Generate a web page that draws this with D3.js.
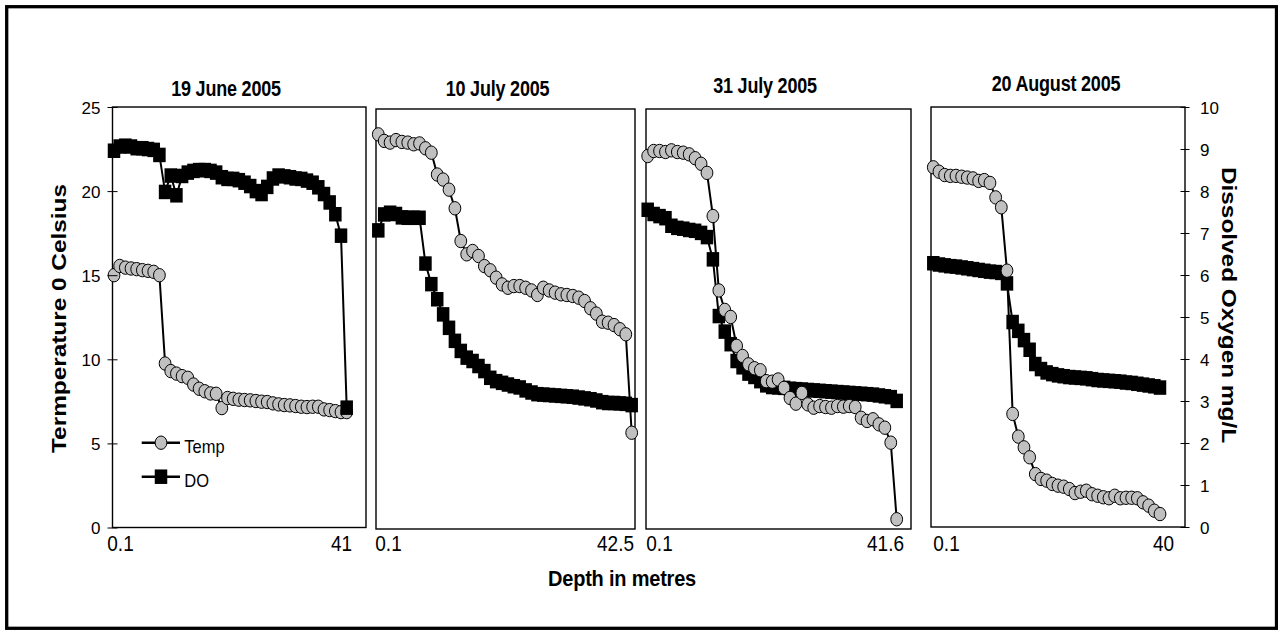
<!DOCTYPE html>
<html><head><meta charset="utf-8">
<script src="https://cdn.jsdelivr.net/npm/d3@7"></script>
<style>
body{margin:0;background:#fff}
svg{display:block}
text{font-family:"Liberation Sans",Arial,Helvetica,sans-serif;fill:#000}
</style>
</head><body>
<svg id="chart" width="1278" height="630"></svg>
<script>
// ---------- data ----------
const titles = ["19 June 2005", "10 July 2005", "31 July 2005", "20 August 2005"];
const seriesNames = ["Temp", "DO"];
const tempTicks = [0, 5, 10, 15, 20, 25];
const doTicks = [0, 1, 2, 3, 4, 5, 6, 7, 8, 9, 10];
const xAxisTitle = "Depth in metres";
const yLeftTitle = "Termperature 0 Celsius";
const yRightTitle = "Dissolved Oxygen mg/L";

const depth1 = ["0.1","1","2","3","4","5","6","7","8","9","10","11","12","13","14","15","16","17","18","19","20","21","22","23","24","25","26","27","28","29","30","31","32","33","34","35","36","37","38","39","40","41"];
const depth2 = ["0.1","1","2","3","4","5","6","7","8","9","10","11","12","13","14","15","16","17","18","19","20","21","22","23","24","25","26","27","28","29","30","31","32","33","34","35","36","37","38","39","40","41","42","42.5"];
const depth3 = ["0.1","1","2","3","4","5","6","7","8","9","10","11","12","13","14","15","16","17","18","19","20","21","22","23","24","25","26","27","28","29","30","31","32","33","34","35","36","37","38","39","40","41","41.6"];
const depth4 = ["0.1","1","2","3","4","5","6","7","8","9","10","11","12","13","14","15","16","17","18","19","20","21","22","23","24","25","26","27","28","29","30","31","32","33","34","35","36","37","38","39","40"];

const temp1 = [15.0,15.55,15.45,15.4,15.36,15.3,15.26,15.2,15.0,9.75,9.3,9.15,9.0,8.9,8.5,8.25,8.1,7.97,7.95,7.1,7.7,7.65,7.6,7.58,7.56,7.52,7.48,7.46,7.38,7.32,7.28,7.26,7.22,7.18,7.16,7.18,7.18,7.02,6.98,6.92,6.86,6.86];
const do1 = [8.96,9.06,9.08,9.06,9.02,9.02,9.0,8.98,8.86,7.98,8.37,7.9,8.36,8.44,8.48,8.5,8.5,8.48,8.44,8.33,8.29,8.29,8.26,8.2,8.12,8.0,7.93,8.1,8.3,8.37,8.35,8.33,8.3,8.29,8.25,8.2,8.09,7.93,7.73,7.45,6.94,2.85];

const temp2 = [23.49,23.1,23.0,23.15,23.04,23.0,22.9,22.95,22.66,22.4,21.1,20.8,20.2,19.09,17.14,16.35,16.55,16.25,15.65,15.4,14.96,14.56,14.36,14.46,14.46,14.36,14.2,13.93,14.36,14.2,14.07,13.97,13.93,13.87,13.77,13.57,13.14,12.82,12.34,12.28,12.14,11.89,11.59,5.73];
const do2 = [7.11,7.49,7.53,7.5,7.42,7.41,7.41,7.41,6.32,5.83,5.47,5.11,4.79,4.48,4.24,4.08,4.0,3.88,3.76,3.6,3.52,3.48,3.44,3.4,3.37,3.3,3.25,3.21,3.2,3.19,3.18,3.17,3.16,3.15,3.13,3.11,3.09,3.06,3.02,3.0,3.0,2.99,2.98,2.95];

const temp3 = [22.2,22.5,22.5,22.44,22.54,22.44,22.4,22.3,22.07,21.74,21.2,18.63,14.2,13.04,12.62,10.9,10.3,9.8,9.57,9.45,8.8,8.77,8.9,8.4,7.8,7.46,8.1,7.42,7.22,7.32,7.26,7.22,7.32,7.28,7.32,7.26,6.62,6.43,6.53,6.23,6.03,5.14,0.58];
const do3 = [7.6,7.5,7.45,7.4,7.22,7.17,7.15,7.12,7.1,7.05,6.95,6.42,5.07,4.7,4.4,4.0,3.85,3.7,3.62,3.52,3.42,3.38,3.37,3.36,3.34,3.33,3.32,3.31,3.3,3.29,3.28,3.27,3.26,3.25,3.24,3.23,3.22,3.21,3.2,3.18,3.16,3.14,3.05];

const temp4 = [21.41,21.15,20.95,20.9,20.9,20.85,20.8,20.75,20.6,20.65,20.48,19.62,19.03,15.26,6.73,5.38,4.74,4.15,3.15,2.86,2.76,2.56,2.46,2.4,2.26,2.02,2.1,2.16,1.95,1.86,1.77,1.71,1.86,1.71,1.74,1.74,1.71,1.47,1.27,0.97,0.77];
const do4 = [6.28,6.25,6.23,6.21,6.2,6.18,6.16,6.14,6.12,6.1,6.08,6.07,6.05,5.8,4.88,4.67,4.45,4.22,3.88,3.76,3.68,3.64,3.61,3.59,3.57,3.56,3.55,3.54,3.52,3.5,3.49,3.48,3.47,3.46,3.44,3.43,3.41,3.39,3.37,3.35,3.32];

const depths = [depth1, depth2, depth3, depth4];
const temps = [temp1, temp2, temp3, temp4];
const dos = [do1, do2, do3, do4];

// ---------- layout ----------
const layout = [
  {left:112.5, right:366, top:107, bottom:527.5, x0:114, x1:346.7, tx:226, ty:96, d0:6, d1:-5.7, doFirst:false},
  {left:376, right:635, top:109, bottom:529, x0:378.3, x1:631.7, tx:497.5, ty:96, d0:9.7, d1:-16.7, doFirst:true},
  {left:646, right:911, top:109, bottom:529, x0:647.7, x1:896.7, tx:765, ty:92.7, d0:11.3, d1:-11.7, doFirst:true},
  {left:931, right:1185, top:107, bottom:527, x0:933.3, x1:1160, tx:1056, ty:90.7, d0:12.7, d1:3, doFirst:true}
];
const CR_X = 5.9, CR_Y = 6.7, SQ_W = 12.5, SQ_H = 14.5, GREY = "#c0c0c0";

const svg = d3.select("#chart");
svg.append("rect").attr("width",1278).attr("height",630).attr("fill","#fff");
svg.append("rect").attr("x",6.7).attr("y",6.7).attr("width",1269.8).attr("height",621.6)
  .attr("fill","none").attr("stroke","#000").attr("stroke-width",3.3);

layout.forEach((L, p) => {
  const g = svg.append("g");
  const x = d3.scalePoint().domain(depths[p]).range([L.x0, L.x1]);
  const yT = d3.scaleLinear().domain([0,25]).range([L.bottom, L.top]);
  const yD = d3.scaleLinear().domain([0,10]).range([L.bottom, L.top]);

  g.append("rect").attr("x",L.left).attr("y",L.top).attr("width",L.right-L.left).attr("height",L.bottom-L.top)
    .attr("fill","#fff").attr("stroke","#000").attr("stroke-width",1.4);

  g.append("text").attr("transform",`translate(${L.tx},${L.ty}) scale(1,1.2)`)
    .attr("text-anchor","middle").attr("font-weight","bold").attr("font-size",18)
    .attr("letter-spacing","-0.2").text(titles[p]);

  const tempPts = depths[p].map((d,i)=>({d, v:temps[p][i]}));
  const doPts = depths[p].map((d,i)=>({d, v:dos[p][i]}));

  const drawTemp = () => {
    g.append("path").datum(tempPts).attr("fill","none").attr("stroke","#000").attr("stroke-width",2)
      .attr("d", d3.line().x(d=>x(d.d)).y(d=>yT(d.v)));
    g.selectAll(null).data(tempPts).enter().append("ellipse")
      .attr("cx",d=>x(d.d)).attr("cy",d=>yT(d.v)).attr("rx",CR_X).attr("ry",CR_Y)
      .attr("fill",GREY).attr("stroke","#000").attr("stroke-width",1);
  };
  const drawDO = () => {
    g.append("path").datum(doPts).attr("fill","none").attr("stroke","#000").attr("stroke-width",2)
      .attr("d", d3.line().x(d=>x(d.d)).y(d=>yD(d.v)));
    g.selectAll(null).data(doPts).enter().append("rect")
      .attr("x",d=>x(d.d)-SQ_W/2).attr("y",d=>yD(d.v)-SQ_H/2).attr("width",SQ_W).attr("height",SQ_H)
      .attr("fill","#000");
  };
  if (L.doFirst) { drawDO(); drawTemp(); } else { drawTemp(); drawDO(); }

  // x tick labels (first and last category)
  const dom = x.domain();
  const ax = g.append("g").attr("transform",`translate(0,${L.bottom})`)
    .call(d3.axisBottom(x).tickValues([dom[0], dom[dom.length-1]]).tickSize(0));
  ax.select(".domain").remove();
  ax.selectAll("text").attr("y",0).attr("dy",null).attr("font-size",19).attr("font-family",null)
    .attr("transform",(d,i)=>`translate(${i===0?L.d0:L.d1},${551-L.bottom}) scale(1,1.12)`);

  if (p === 0) {
    const ya = g.append("g").attr("transform",`translate(${L.left},0)`)
      .call(d3.axisLeft(yT).tickValues(tempTicks).tickSize(5).tickSizeOuter(0));
    ya.select(".domain").remove();
    ya.selectAll(".tick line").attr("x1",5).attr("x2",-5).attr("stroke","#000").attr("stroke-width",1);
    ya.selectAll("text").attr("x",-12).attr("dy","0.36em").attr("font-size",17).attr("font-family",null);

    // legend
    const lg = g.append("g");
    const legY = [442.7, 476.7];
    seriesNames.forEach((nm, k) => {
      lg.append("line").attr("x1",141.7).attr("x2",180).attr("y1",legY[k]).attr("y2",legY[k])
        .attr("stroke","#000").attr("stroke-width",2.4);
      if (k === 0) {
        lg.append("ellipse").attr("cx",161).attr("cy",legY[k]).attr("rx",CR_X).attr("ry",CR_Y)
          .attr("fill",GREY).attr("stroke","#000").attr("stroke-width",1);
      } else {
        lg.append("rect").attr("x",161-SQ_W/2).attr("y",legY[k]-SQ_H/2).attr("width",SQ_W).attr("height",SQ_H).attr("fill","#000");
      }
      lg.append("text").attr("transform",`translate(184.3,${legY[k]+3.5}) scale(1,1.15)`)
        .attr("font-size",16.5).attr("dy","0.35em").text(nm);
    });
  }
  if (p === 3) {
    const ya = g.append("g").attr("transform",`translate(${L.right},0)`)
      .call(d3.axisRight(yD).tickValues(doTicks).tickSize(5).tickSizeOuter(0));
    ya.select(".domain").remove();
    ya.selectAll(".tick line").attr("x1",-4.5).attr("x2",4.5).attr("stroke","#000").attr("stroke-width",1);
    ya.selectAll("text").attr("x",15).attr("dy","0.36em").attr("font-size",17).attr("font-family",null);
  }
});

// axis titles
svg.append("text").attr("transform","translate(622,586) scale(1,1.08)")
  .attr("text-anchor","middle").attr("font-weight","bold").attr("font-size",20).attr("letter-spacing","-0.2").text(xAxisTitle);
svg.append("text").attr("transform","translate(66,318.5) rotate(-90) scale(1.16,1)")
  .attr("text-anchor","middle").attr("font-weight","bold").attr("font-size",21).text(yLeftTitle);
svg.append("text").attr("transform","translate(1221.7,305) rotate(90) scale(1.16,1)")
  .attr("text-anchor","middle").attr("font-weight","bold").attr("font-size",21).text(yRightTitle);
</script>
</body></html>
